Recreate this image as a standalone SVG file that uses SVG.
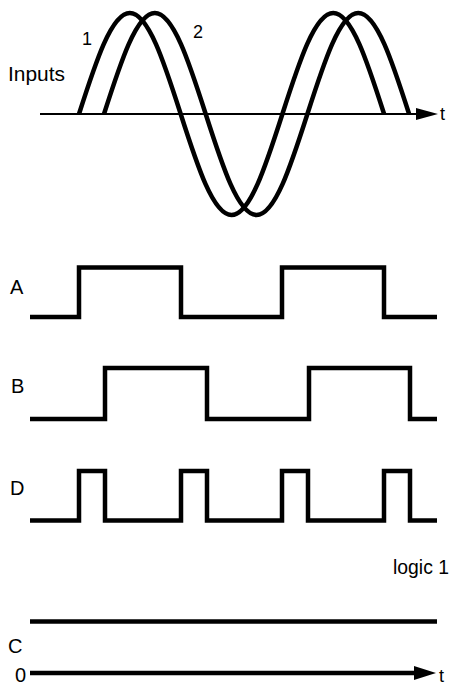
<svg xmlns="http://www.w3.org/2000/svg" width="450" height="685" viewBox="0 0 450 685">
<style>
.w{fill:none;stroke:#000;stroke-width:4.5;stroke-linejoin:miter;stroke-linecap:butt}
.ax{fill:none;stroke:#000;stroke-width:2}
.axb{fill:none;stroke:#000;stroke-width:4.5}
.lbl{font-family:"Liberation Sans",Arial,sans-serif;font-size:20px;fill:#000}
.sm{font-family:"Liberation Sans",Arial,sans-serif;font-size:18px;fill:#000}
</style>
<rect width="450" height="685" fill="#fff"/>
<g id="connectors">
<line class="ax" x1="40" y1="114" x2="420" y2="114"/>
<polygon points="416,108 438,114 416,120" fill="#000"/>
<line class="axb" x1="30" y1="673" x2="418" y2="673"/>
<polygon points="414,666 436,673 414,680" fill="#000"/>
</g>
<g id="inputs">
<text class="lbl" x="8" y="81" textLength="57" lengthAdjust="spacingAndGlyphs">Inputs</text>
<text class="sm" x="82" y="45">1</text>
<text class="sm" x="193" y="38">2</text>
<text class="sm" x="440" y="120">t</text>
<path id="wave1" class="w" d="M79,114 c16.58,-51.74 32.45,-101 50.85,-101 c18.4,0 34.27,49.26 50.85,101 c16.58,51.74 32.45,101 50.85,101 c18.4,0 34.27,-49.26 50.85,-101 c16.58,-51.74 32.45,-101 50.85,-101 c18.4,0 34.27,49.26 50.85,101"/>
<path id="wave2" class="w" d="M104,114 c16.58,-51.74 32.45,-101 50.85,-101 c18.4,0 34.27,49.26 50.85,101 c16.58,51.74 32.45,101 50.85,101 c18.4,0 34.27,-49.26 50.85,-101 c16.58,-51.74 32.45,-101 50.85,-101 c18.4,0 34.27,49.26 50.85,101"/>
</g>
<g id="A">
<text class="lbl" x="10" y="294">A</text>
<path class="w" d="M30,317 H79 V267.5 H181 V317 H282 V267.5 H384 V317 H437"/>
</g>
<g id="B">
<text class="lbl" x="11" y="393">B</text>
<path class="w" d="M30,419 H105 V368 H207 V419 H309 V368 H410 V419 H437"/>
</g>
<g id="D">
<text class="lbl" x="10" y="495">D</text>
<path class="w" d="M30,520.5 H79 V471 H105 V520.5 H181 V471 H207 V520.5 H282 V471 H308 V520.5 H384 V471 H410 V520.5 H437"/>
</g>
<g id="C">
<text class="lbl" x="393" y="574" textLength="56" lengthAdjust="spacingAndGlyphs">logic 1</text>
<line class="axb" x1="30" y1="621.5" x2="437" y2="621.5"/>
<text class="lbl" x="8" y="653">C</text>
<text class="lbl" x="15" y="682">0</text>
<text class="sm" x="439" y="682">t</text>
</g>
</svg>
